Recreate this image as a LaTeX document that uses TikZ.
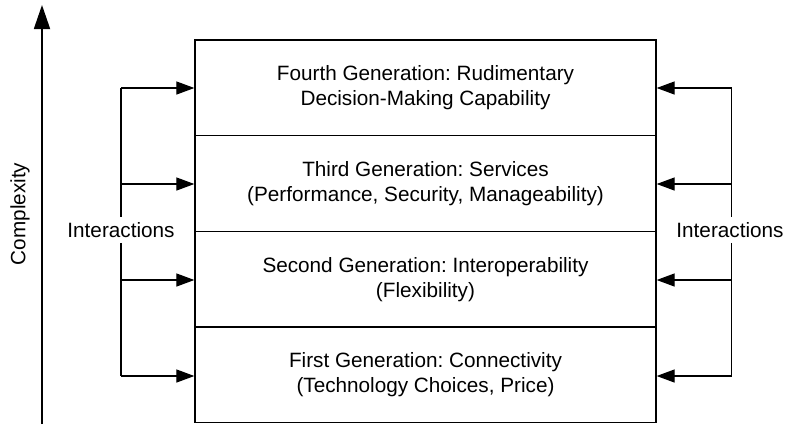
\documentclass[tikz,border=0pt]{standalone}
\usepackage{fontspec}
\setmainfont{Liberation Sans}
\frenchspacing
\usetikzlibrary{arrows.meta}
\begin{document}
\begin{tikzpicture}[x=1bp,y=-1bp,
  txt/.style={font=\fontsize{20.8}{25}\selectfont\frenchspacing},
  gen/.style={txt,draw,line width=1.3bp,minimum width=461bp,minimum height=95.7bp,align=center,inner sep=0pt},
  lbl/.style={txt,fill=white,inner xsep=2bp,inner ysep=5bp},
  link/.style={line width=1.3bp},
  arr/.style={line width=1.3bp,-{Triangle[length=18bp,width=13bp]}},
  axis/.style={line width=1.8bp,-{Triangle[length=24bp,width=16bp]}}]
\useasboundingbox (0,0) rectangle (787,424);
% generation boxes
\node[gen] (g4) at (425.5,87.85) {Fourth Generation: Rudimentary\\Decision-Making Capability};
\node[gen] (g3) at (425.5,183.55) {Third Generation: Services\\(Performance, Security, Manageability)};
\node[gen] (g2) at (425.5,279.25) {Second Generation: Interoperability\\(Flexibility)};
\node[gen] (g1) at (425.5,374.95) {First Generation: Connectivity\\(Technology Choices, Price)};
% complexity axis
\coordinate (ab) at (42,424);
\coordinate (at) at (42,5);
\draw[axis] (ab) -- (at);
\node[txt,rotate=90] (cx) at (20,214) {Complexity};
% left interactions
\coordinate (l4) at (121,88);
\coordinate (l3) at (121,184);
\coordinate (l2) at (121,280);
\coordinate (l1) at (121,376);
\node[lbl] (li) at (121,230) {Interactions};
\draw[link] (l4) -- (li.north);
\draw[link] (li.south) -- (l1);
\draw[arr] (l4) -- (g4.west |- l4);
\draw[arr] (l3) -- (g3.west |- l3);
\draw[arr] (l2) -- (g2.west |- l2);
\draw[arr] (l1) -- (g1.west |- l1);
% right interactions
\coordinate (r4) at (731.5,88);
\coordinate (r3) at (731.5,184);
\coordinate (r2) at (731.5,280);
\coordinate (r1) at (731.5,376);
\node[lbl] (ri) at (730,230) {Interactions};
\draw[link] (r4) -- (r4 |- ri.north);
\draw[link] (r1 |- ri.south) -- (r1);
\draw[arr] (r4) -- (g4.east |- r4);
\draw[arr] (r3) -- (g3.east |- r3);
\draw[arr] (r2) -- (g2.east |- r2);
\draw[arr] (r1) -- (g1.east |- r1);
\end{tikzpicture}
\end{document}
